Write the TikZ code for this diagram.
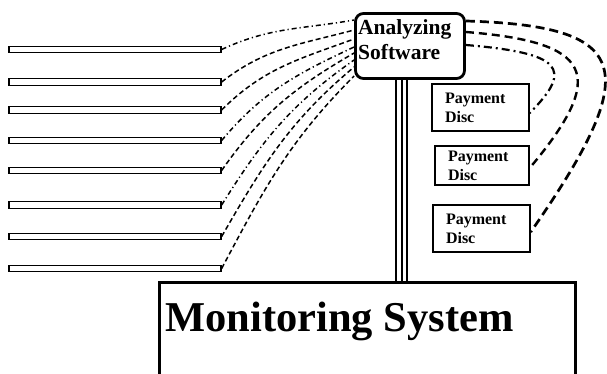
\documentclass[tikz,border=0pt]{standalone}
\usepackage{fontspec}
\setmainfont{Liberation Serif}
\usetikzlibrary{positioning, calc}

\begin{document}
\begin{tikzpicture}[x=1pt, y=1pt,
    bar/.style={draw, line width=1.3pt, minimum width=212pt, minimum height=6.5pt, inner sep=0pt},
    paybox/.style={draw, line width=1.4pt, inner xsep=13pt, inner ysep=0pt, align=left, font=\bfseries\fontsize{16}{19}\selectfont},
    wire/.style={line width=1.5pt, dash pattern=on 5pt off 3pt},
    wiredot/.style={line width=1.5pt, dash pattern=on 5pt off 3pt on 1.2pt off 3pt},
    link/.style={line width=2.4pt, dash pattern=on 8pt off 5pt},
    linkdot/.style={line width=2.2pt, dash pattern=on 8pt off 4pt on 2pt off 4pt}
  ]
  \useasboundingbox (0,0) rectangle (607,374);
  \clip (0,0) rectangle (607,374);

  % software box
  \node[draw, line width=2.8pt, rounded corners=8pt, minimum width=109pt, minimum height=65pt, inner sep=0pt] (ana) at (410,328) {};
  \node[anchor=north west, align=left, inner sep=0pt, font=\bfseries\fontsize{21.5}{25}\selectfont] (anatext) at (358,355) {Analyzing\\Software};

  % monitoring system
  \node[draw, line width=2.8pt, minimum width=416pt, minimum height=150pt, anchor=north west, inner sep=0pt] (mon) at (158.4,92.6) {};
  \node[anchor=base west, inner sep=0pt, font=\bfseries\fontsize{42.5}{48}\selectfont] (montext) at (165,42) {Monitoring System};

  \foreach \dx in {-14,-8.5,-3}
    \draw[line width=2pt] ([xshift=\dx pt]ana.south) -- ([xshift=\dx pt]ana.south |- mon.north);

  % payment discs
  \node[paybox, text width=71pt, minimum height=47pt] (pay1) at (480.5,266.5) {Payment\\Disc};
  \node[paybox, text width=68pt, minimum height=39pt] (pay2) at (482,208.5) {Payment\\Disc};
  \node[paybox, text width=71pt, minimum height=47pt] (pay3) at (481.5,145.5) {Payment\\Disc};

  % bars
  \foreach \i/\y in {1/324.5, 2/292, 3/264, 4/233.5, 5/203.5, 6/169, 7/137.5, 8/105.5}
    \node[bar] (bar\i) at (115,\y) {};

  \foreach \i/\t/\o/\n/\s in {1/26/25/190/wiredot, 2/16/38/195/wire, 3/7/45/200/wire, 4/-1/50/205/wiredot,
      5/-7/55/210/wire, 6/-14/58/215/wiredot, 7/-21/60/220/wire, 8/-30/62/225/wire}
    \draw[\s] (bar\i.east) to[out=\o, in=\n] ([yshift=\t pt]ana.west);

  % software to discs
  \draw[linkdot] ([yshift=1pt]ana.east) .. controls +(95,-8) and +(45,45) .. ([yshift=-5.5pt]pay1.east);
  \draw[link] ([yshift=14pt]ana.east) .. controls +(125,-10) and +(80,95) .. ([yshift=-2.5pt]pay2.east);
  \draw[link, line width=2.7pt, dash pattern=on 9pt off 5pt] ([yshift=25pt]ana.east) .. controls +(165,-5) and +(115,165) .. ([yshift=-3.5pt]pay3.east);
\end{tikzpicture}
\end{document}
